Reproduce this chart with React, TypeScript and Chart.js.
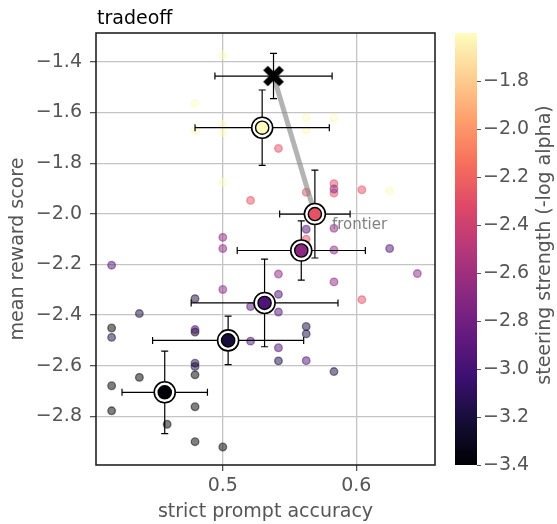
import React, { useEffect, useRef } from 'react';
import { Chart, registerables } from 'chart.js';
Chart.register(...registerables);

// ---- data ----
const STEER_LEVELS = [-3.4, -3.2, -2.95, -2.68, -2.28, -1.6];

const RUN_ACC: number[][] = [
  [0.4167, 0.4792, 0.4792, 0.4375, 0.4167, 0.4167, 0.4792, 0.4583, 0.4792, 0.5],
  [0.4792, 0.4375, 0.4167, 0.5625, 0.5625, 0.5417, 0.5833, 0.4792, 0.4792],
  [0.5625, 0.625, 0.4167, 0.5417, 0.5208, 0.5417, 0.5208, 0.5417, 0.5625, 0.4792],
  [0.5417, 0.5208, 0.5625, 0.5833, 0.5833, 0.6042, 0.6042, 0.5625, 0.5625],
  [0.5, 0.5, 0.5833, 0.5833, 0.6458, 0.5833, 0.5417, 0.5, 0.5833],
  [0.5, 0.4792, 0.5, 0.4792, 0.5, 0.5625, 0.5833, 0.5625, 0.5, 0.625],
];
const RUN_SCORE: number[][] = [
  [-2.451, -2.467, -2.636, -2.646, -2.679, -2.778, -2.762, -2.831, -2.9, -2.921],
  [-2.335, -2.394, -2.488, -2.445, -2.474, -2.581, -2.623, -2.59, -2.603],
  [-2.061, -2.137, -2.203, -2.318, -2.366, -2.388, -2.503, -2.529, -2.58, -2.457],
  [-1.742, -1.947, -1.915, -1.881, -1.918, -1.905, -2.339, -2.1, -2.124],
  [-2.093, -2.137, -2.057, -2.143, -2.236, -2.269, -2.238, -2.299, -1.902],
  [-1.373, -1.564, -1.647, -1.671, -1.68, -1.621, -1.621, -1.67, -1.875, -1.909],
];
// steer-level index of each RUN row
const RUN_LEVEL = [0, 1, 2, 4, 3, 5];

const MEAN_ACC = [0.4565, 0.504, 0.5313, 0.5588, 0.569, 0.5295];
const MEAN_SCORE = [-2.705, -2.5, -2.352, -2.145, -2.001, -1.66];
const ACC_STD = [0.032, 0.0566, 0.055, 0.048, 0.0264, 0.0503];
const SCORE_STD = [0.163, 0.096, 0.173, 0.117, 0.1735, 0.149];

const BASE_ACC = 0.538;
const BASE_SCORE = -1.456;
const BASE_ACC_STD = 0.0439;
const BASE_SCORE_STD = 0.0895;

const FRONTIER_INDEX = 4;
const FRONTIER_LABEL = 'frontier';

const X_TICKS = [0.5, 0.6];
const Y_TICKS = [-1.4, -1.6, -1.8, -2.0, -2.2, -2.4, -2.6, -2.8];
const CB_TICKS = [-1.8, -2.0, -2.2, -2.4, -2.6, -2.8, -3.0, -3.2, -3.4];
const CB_MIN = -3.4;
const CB_MAX = -1.6;

const TITLE = 'tradeoff';
const X_LABEL = 'strict prompt accuracy';
const Y_LABEL = 'mean reward score';
const CB_LABEL = 'steering strength (-log alpha)';

// ---- helpers ----
const MAGMA = ['#000004', '#140e36', '#3b0f70', '#641a80', '#8c2981', '#b73779', '#de4968', '#f7705c', '#fe9f6d', '#fecf92', '#fcfdbf'];
function hexRgb(h: string) {
  return [parseInt(h.slice(1, 3), 16), parseInt(h.slice(3, 5), 16), parseInt(h.slice(5, 7), 16)];
}
function magma(t: number): number[] {
  t = Math.max(0, Math.min(1, t));
  const f = t * 10;
  const i = Math.min(9, Math.floor(f));
  const u = f - i;
  const a = hexRgb(MAGMA[i]);
  const b = hexRgb(MAGMA[i + 1]);
  return [0, 1, 2].map((k) => Math.round(a[k] + (b[k] - a[k]) * u));
}
function steerColor(v: number, alpha = 1) {
  const c = magma((v - CB_MIN) / (CB_MAX - CB_MIN));
  return `rgba(${c[0]},${c[1]},${c[2]},${alpha})`;
}
const fmt = (v: number) => v.toFixed(1).replace('-', '\u2212');

const FONT = 'DejaVu Sans';
const GREY = '#555555';

function makeXMarker() {
  const c = document.createElement('canvas');
  c.width = 24;
  c.height = 24;
  const g = c.getContext('2d')!;
  g.strokeStyle = '#000';
  g.lineWidth = 6.5;
  g.lineCap = 'butt';
  g.beginPath();
  g.moveTo(4, 4);
  g.lineTo(20, 20);
  g.moveTo(20, 4);
  g.lineTo(4, 20);
  g.stroke();
  return c;
}

const overlay = {
  id: 'overlay',
  afterDatasetDraw(chart: any, args: any) {
    const ds = chart.data.datasets[args.index];
    if (ds.label !== FRONTIER_LABEL) return;
    const { ctx, scales } = chart;
    const xs = scales.x, ys = scales.y;
    const bars = MEAN_ACC.map((a, i) => [a, MEAN_SCORE[i], ACC_STD[i], SCORE_STD[i]]);
    bars.push([BASE_ACC, BASE_SCORE, BASE_ACC_STD, BASE_SCORE_STD]);
    ctx.save();
    ctx.strokeStyle = '#000';
    ctx.lineWidth = 1.2;
    const cap = 3.5;
    for (const [a, s, ea, es] of bars) {
      const x0 = xs.getPixelForValue(a - ea), x1 = xs.getPixelForValue(a + ea);
      const y0 = ys.getPixelForValue(s - es), y1 = ys.getPixelForValue(s + es);
      const cx = xs.getPixelForValue(a), cy = ys.getPixelForValue(s);
      ctx.beginPath();
      ctx.moveTo(x0, cy); ctx.lineTo(x1, cy);
      ctx.moveTo(cx, y0); ctx.lineTo(cx, y1);
      ctx.moveTo(x0, cy - cap); ctx.lineTo(x0, cy + cap);
      ctx.moveTo(x1, cy - cap); ctx.lineTo(x1, cy + cap);
      ctx.moveTo(cx - cap, y0); ctx.lineTo(cx + cap, y0);
      ctx.moveTo(cx - cap, y1); ctx.lineTo(cx + cap, y1);
      ctx.stroke();
    }
    ctx.restore();
  },
  afterDraw(chart: any) {
    const { ctx, chartArea, scales } = chart;
    ctx.save();
    // frontier annotation
    const fx = scales.x.getPixelForValue(MEAN_ACC[FRONTIER_INDEX]);
    const fy = scales.y.getPixelForValue(MEAN_SCORE[FRONTIER_INDEX]);
    ctx.fillStyle = '#808080';
    ctx.font = `15px "${FONT}"`;
    ctx.textAlign = 'left';
    ctx.textBaseline = 'middle';
    ctx.fillText(FRONTIER_LABEL, fx + 17, fy + 11);
    // frame
    ctx.strokeStyle = '#222';
    ctx.lineWidth = 1.6;
    ctx.strokeRect(chartArea.left, chartArea.top, chartArea.right - chartArea.left, chartArea.bottom - chartArea.top);
    // title
    ctx.fillStyle = '#000';
    ctx.font = `19px "${FONT}"`;
    ctx.textBaseline = 'alphabetic';
    ctx.fillText(TITLE, chartArea.left + 1, 23.5);
    // colorbar
    const cb = scales.cb;
    const top = cb.getPixelForValue(CB_MAX);
    const bottom = cb.getPixelForValue(CB_MIN);
    const bx = cb.left + 20, bw = 22;
    const grad = ctx.createLinearGradient(0, bottom, 0, top);
    for (let i = 0; i <= 40; i++) grad.addColorStop(i / 40, steerColor(CB_MIN + (CB_MAX - CB_MIN) * i / 40));
    ctx.fillStyle = grad;
    ctx.fillRect(bx, top, bw, bottom - top);
    ctx.strokeStyle = GREY;
    ctx.lineWidth = 1;
    ctx.beginPath();
    for (const t of CB_TICKS) {
      const y = Math.round(cb.getPixelForValue(t)) + 0.5;
      ctx.moveTo(bx + bw, y);
      ctx.lineTo(bx + bw + 4, y);
    }
    ctx.stroke();
    // colorbar label
    ctx.translate(545.5, (top + bottom) / 2 - 4);
    ctx.rotate(-Math.PI / 2);
    ctx.fillStyle = GREY;
    ctx.font = `19px "${FONT}"`;
    ctx.textAlign = 'center';
    ctx.textBaseline = 'middle';
    ctx.fillText(CB_LABEL, 0, 0);
    ctx.restore();
  },
};

export default function App() {
  const ref = useRef<HTMLCanvasElement>(null);
  useEffect(() => {
    document.body.style.margin = '0';
    const xMarker = makeXMarker();
    const datasets: any[] = [];
    RUN_ACC.forEach((accs, r) => {
      const lvl = STEER_LEVELS[RUN_LEVEL[r]];
      datasets.push({
        label: 'runs' + r,
        data: accs.map((a, i) => ({ x: a, y: RUN_SCORE[r][i] })),
        backgroundColor: steerColor(lvl, 0.5),
        borderColor: steerColor(lvl, 0.5),
        borderWidth: 1.3,
        pointRadius: 3.8,
        order: 20 - r,
      });
    });
    datasets.push({
      label: FRONTIER_LABEL,
      data: [
        { x: BASE_ACC, y: BASE_SCORE },
        { x: MEAN_ACC[FRONTIER_INDEX], y: MEAN_SCORE[FRONTIER_INDEX] },
      ],
      showLine: true,
      borderColor: 'rgba(128,128,128,0.6)',
      borderWidth: 5,
      pointRadius: 0,
      order: 8,
    });
    datasets.push({
      label: 'ring',
      data: MEAN_ACC.map((a, i) => ({ x: a, y: MEAN_SCORE[i] })),
      backgroundColor: '#ffffff',
      borderColor: '#000',
      borderWidth: 1.6,
      pointRadius: 10.5,
      order: 4,
    });
    datasets.push({
      label: 'means',
      data: MEAN_ACC.map((a, i) => ({ x: a, y: MEAN_SCORE[i] })),
      backgroundColor: STEER_LEVELS.map((v) => steerColor(v)),
      borderColor: '#000',
      borderWidth: 1.4,
      pointRadius: 6.6,
      order: 3,
    });
    datasets.push({
      label: 'baseline',
      data: [{ x: BASE_ACC, y: BASE_SCORE }],
      pointStyle: xMarker,
      pointRadius: 11,
      order: 1,
    });

    const tickFont = { family: FONT, size: 19 };
    const chart = new Chart(ref.current!, {
      type: 'scatter',
      data: { datasets },
      options: {
        responsive: false,
        animation: false,
        events: [],
        layout: { padding: { top: 33, left: 0, right: 0, bottom: 0 } },
        plugins: { legend: { display: false }, tooltip: { enabled: false }, title: { display: false } },
        scales: {
          x: {
            type: 'linear',
            position: 'bottom',
            min: 0.405,
            max: 0.659,
            afterBuildTicks: (s: any) => { s.ticks = X_TICKS.map((v) => ({ value: v })); },
            afterFit: (s: any) => { s.height = 59; },
            ticks: { font: tickFont, color: GREY, padding: 4, autoSkip: false, maxRotation: 0, callback: (v: any) => fmt(Number(v)) },
            grid: { color: '#c4c4c4', lineWidth: 1.3, tickColor: GREY, tickLength: 6 },
            border: { display: false },
            title: { display: true, text: X_LABEL, font: tickFont, color: GREY, padding: { top: 0, bottom: 1 } },
          },
          y: {
            type: 'linear',
            position: 'left',
            min: -2.992,
            max: -1.286,
            afterBuildTicks: (s: any) => { s.ticks = Y_TICKS.map((v) => ({ value: v })); },
            afterFit: (s: any) => { s.width = 96; },
            ticks: { font: tickFont, color: GREY, padding: 8, autoSkip: false, callback: (v: any) => fmt(Number(v)) },
            grid: { color: '#c4c4c4', lineWidth: 1.3, tickColor: GREY, tickLength: 6 },
            border: { display: false },
            title: { display: true, text: Y_LABEL, font: tickFont, color: GREY, padding: { top: 7, bottom: 0 } },
          },
          cb: {
            type: 'linear',
            position: 'right',
            min: CB_MIN,
            max: CB_MAX,
            afterBuildTicks: (s: any) => { s.ticks = CB_TICKS.map((v) => ({ value: v })); },
            afterFit: (s: any) => { s.width = 122; },
            ticks: { font: tickFont, color: GREY, padding: 4, autoSkip: false, callback: (v: any) => fmt(Number(v)) },
            grid: { display: false, drawTicks: true, tickLength: 44, drawOnChartArea: false },
            border: { display: false },
          },
        },
      },
      plugins: [overlay],
    } as any);
    return () => chart.destroy();
  }, []);
  return (
    <div style={{ width: 557, height: 524 }}>
      <canvas ref={ref} width={557} height={524} />
    </div>
  );
}
